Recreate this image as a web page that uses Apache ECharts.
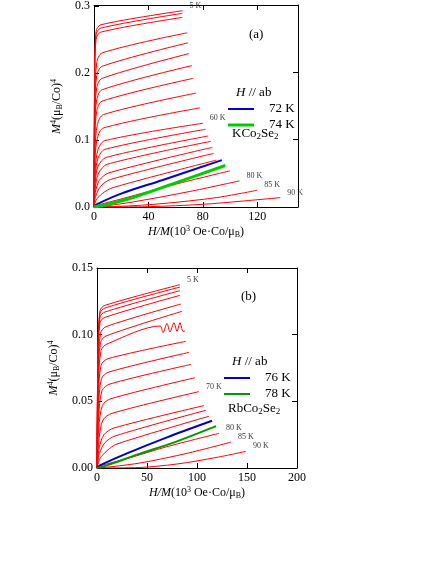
<!DOCTYPE html>
<html><head><meta charset="utf-8">
<script src="https://cdn.jsdelivr.net/npm/echarts@6/dist/echarts.min.js"></script>
<style>html,body{margin:0;background:#fff}#c{width:436px;height:564px}</style>
</head><body><div id="c"></div>
<script>
// panel (a) KCo2Se2: red isotherms, [x, y] points
var curvesA = [
  [[0,0],[0.5,0.2],[1.5,0.262],[5,0.272],[65,0.293]],
  [[0,0],[0.5,0.2],[1.5,0.257],[5,0.267],[65,0.289]],
  [[0,0],[0.5,0.19],[1.5,0.25],[5,0.261],[65,0.283]],
  [[0,0],[0.6,0.16],[2,0.215],[6,0.230],[68.5,0.260]],
  [[0,0],[0.6,0.15],[2,0.196],[6,0.210],[69,0.245]],
  [[0,0],[0.6,0.13],[2,0.178],[6,0.192],[70,0.229]],
  [[0,0],[0.6,0.12],[2,0.160],[6,0.175],[72,0.211]],
  [[0,0],[0.6,0.10],[2,0.143],[6,0.158],[73,0.192]],
  [[0,0],[0.7,0.085],[2.5,0.123],[7,0.138],[75,0.170]],
  [[0,0],[0.7,0.07],[2.5,0.103],[7,0.118],[78,0.148]],
  [[0,0],[0.8,0.055],[3,0.086],[8,0.099],[80,0.125]],
  [[0,0],[0.8,0.045],[3,0.073],[8,0.086],[82,0.116]],
  [[0,0],[0.9,0.037],[3,0.061],[9,0.074],[84,0.106]],
  [[0,0],[1,0.03],[3.5,0.051],[10,0.064],[86,0.098]],
  [[0,0],[1,0.022],[4,0.040],[11,0.051],[87,0.089]],
  [[0,0],[1.2,0.016],[5,0.031],[12,0.041],[88,0.080]],
  [[0,0],[1.5,0.01],[6,0.020],[14,0.029],[90,0.070]],
  [[0,0],[5,0.004],[20,0.012],[60,0.034],[100,0.054]],
  [[0,0],[10,0.002],[30,0.008],[70,0.023],[107,0.039]],
  [[0,0],[20,0.001],[50,0.005],[90,0.014],[120,0.025]],
  [[0,0],[40,0.0005],[80,0.004],[110,0.009],[137,0.014]]
];
var blueA = [[0,0],[2,0.004],[20,0.020],[50,0.040],[94,0.070]];
var greenA = [[0,0],[10,0.004],[30,0.015],[60,0.036],[96.5,0.062]];
var labelsA = [['5 K',65,0.293],['60 K',80,0.125],['80 K',107,0.039],['85 K',120,0.025],['90 K',137,0.014]];

// panel (b) RbCo2Se2
var curvesB = [
  [[0,0],[1,0.09],[3,0.118],[8,0.122],[83,0.1375]],
  [[0,0],[1,0.088],[3,0.116],[8,0.120],[83,0.1357]],
  [[0,0],[1,0.085],[3,0.113],[8,0.117],[83,0.133]],
  [[0,0],[1,0.08],[3,0.109],[8,0.113],[83,0.1295]],
  [[0,0],[1.2,0.074],[3.5,0.101],[9,0.106],[84,0.123]],
  [[0,0],[1.2,0.068],[3.5,0.094],[9,0.099],[85,0.1175]],
  [[0,0],[1.3,0.062],[4,0.088],[10,0.093],[63,0.1065],[66,0.1015],[70,0.1085],[73,0.102],[77,0.109],[80,0.1025],[83,0.109],[86,0.1025],[88,0.1026]],
  [[0,0],[1.4,0.052],[4,0.077],[11,0.082],[89,0.095]],
  [[0,0],[1.5,0.045],[4.5,0.067],[12,0.072],[92,0.0867]],
  [[0,0],[1.6,0.038],[5,0.058],[13,0.063],[94,0.0777]],
  [[0,0],[1.8,0.03],[5.5,0.047],[14,0.052],[98,0.0677]],
  [[0,0],[2,0.022],[6,0.036],[15,0.041],[102,0.0573]],
  [[0,0],[2.2,0.015],[7,0.025],[17,0.030],[107,0.0468]],
  [[0,0],[2.5,0.011],[8,0.019],[18,0.024],[109,0.0433]],
  [[0,0],[3,0.007],[10,0.013],[20,0.018],[112,0.0388]],
  [[0,0],[5,0.002],[30,0.007],[70,0.016],[122,0.026]],
  [[0,0],[15,0.001],[45,0.004],[90,0.011],[134,0.0194]],
  [[0,0],[40,0.0003],[80,0.003],[120,0.008],[149,0.0125]]
];
var blueB = [[0,0],[3,0.002],[30,0.011],[70,0.023],[115,0.0354]];
var greenB = [[0,0],[10,0.002],[40,0.010],[80,0.020],[119,0.0314]];
var labelsB = [['5 K',83,0.1375],['70 K',102,0.0573],['80 K',122,0.026],['85 K',134,0.0194],['90 K',149,0.0125]];

var F = 'Liberation Serif';
var chart = echarts.init(document.getElementById('c'));
var series = [];
function addLine(data, xi, color, w) {
  series.push({type:'line', xAxisIndex:xi, yAxisIndex:xi, data:data, showSymbol:false,
    smooth:0.3, lineStyle:{color:color, width:w}, silent:true});
}
function addLabels(lbls, xi) {
  series.push({type:'scatter', xAxisIndex:xi, yAxisIndex:xi, symbolSize:0, silent:true,
    data:lbls.map(function(l){return {value:[l[1],l[2]], label:{show:true, formatter:l[0], position:'right', offset:[2,-5], fontFamily:F, fontSize:8, color:'#000'}};})});
}
curvesA.forEach(function(c){addLine(c,0,'#ff0000',1);});
addLine(blueA,0,'#0000dd',2); addLine(greenA,0,'#00cc00',3);
curvesB.forEach(function(c){addLine(c,2,'#ff0000',1);});
addLine(blueB,2,'#0000cc',2); addLine(greenB,2,'#009900',2);
addLabels(labelsA,0); addLabels(labelsB,2);
// mirrored axes need a series
series.push({type:'line',xAxisIndex:1,yAxisIndex:1,data:[]});
series.push({type:'line',xAxisIndex:3,yAxisIndex:3,data:[]});

var lab = {fontFamily:F, fontSize:12, color:'#000'};
var rich = {i:{fontStyle:'italic',fontFamily:F,fontSize:12}, s:{fontSize:8,fontFamily:F,verticalAlign:'top',padding:[0,0,6,0]}, b:{fontSize:8,fontFamily:F,padding:[6,0,0,0]}, n:{fontFamily:F,fontSize:12}};
var xName = '{i|H/M}{n|(10}{s|3}{n| Oe·Co/μ}{b|B}{n|)}';
var yName = '{i|M}{s|4}{n|(μ}{b|B}{n|/Co)}{s|4}';
function xa(g, max, iv, show, pos, hideMax) {
  return {type:'value', gridIndex:g, min:0, max:max, interval:iv, position:pos,
    axisLine:{show:true,onZero:false,lineStyle:{color:'#000'}}, axisTick:{inside:true,length:5,lineStyle:{color:'#000'}},
    splitLine:{show:false}, axisLabel:{show:show, ...lab, margin:4, formatter:function(v){return (hideMax && v===max)?'':v;}},
    name: show ? xName : '', nameLocation:'middle', nameGap:18, nameTextStyle:{rich:rich}};
}
function ya(g, max, iv, show, pos, dec) {
  return {type:'value', gridIndex:g, min:0, max:max, interval:iv, position:pos,
    axisLine:{show:true,onZero:false,lineStyle:{color:'#000'}}, axisTick:{inside:true,length:5,lineStyle:{color:'#000'}},
    splitLine:{show:false}, axisLabel:{show:show, ...lab, margin:4, formatter:function(v){return v.toFixed(dec);}},
    name: show ? yName : '', nameLocation:'middle', nameGap:dec===1?30:36, nameRotate:90, nameTextStyle:{rich:rich}};
}
var gr = [];
function legend(x, y, c1, c2, t1, t2, w2, comp, cy) {
  gr.push({type:'text', left:x, top:y, style:{text:'{i|H} // ab', rich:{i:{fontStyle:'italic',fontFamily:F,fontSize:13},n:{fontFamily:F,fontSize:13}}, font:'13px '+F, fill:'#000'}});
  gr.push({type:'line', shape:{x1:x-8,y1:y+23,x2:x+18,y2:y+23}, style:{stroke:c1,lineWidth:2}});
  gr.push({type:'text', left:x+33, top:y+16, style:{text:t1, font:'13px '+F, fill:'#000'}});
  gr.push({type:'line', shape:{x1:x-8,y1:y+39,x2:x+18,y2:y+39}, style:{stroke:c2,lineWidth:w2}});
  gr.push({type:'text', left:x+33, top:y+32, style:{text:t2, font:'13px '+F, fill:'#000'}});
  gr.push({type:'text', left:x-4, top:cy, style:{text:comp, rich:{n:{fontFamily:F,fontSize:13},b:{fontFamily:F,fontSize:9,padding:[6,0,0,0]}}, fill:'#000'}});
}
legend(236, 86, '#0000dd', '#00cc00', '72 K', '74 K', 3, '{n|KCo}{b|2}{n|Se}{b|2}', 127);
legend(232, 355, '#0000cc', '#009900', '76 K', '78 K', 2, '{n|RbCo}{b|2}{n|Se}{b|2}', 402);
gr.push({type:'text', left:249, top:28, style:{text:'(a)', font:'13px '+F, fill:'#000'}});
gr.push({type:'text', left:241, top:290, style:{text:'(b)', font:'13px '+F, fill:'#000'}});

chart.setOption({
  animation:false,
  grid:[{left:94,top:5,width:204,height:202},{left:94,top:5,width:204,height:202},
        {left:97,top:268,width:200,height:200},{left:97,top:268,width:200,height:200}],
  xAxis:[xa(0,150,40,true,'bottom',true), xa(1,150,40,false,'top'), xa(2,200,50,true,'bottom'), xa(3,200,50,false,'top')],
  yAxis:[ya(0,0.3,0.1,true,'left',1), ya(1,0.3,0.1,false,'right',1), ya(2,0.15,0.05,true,'left',2), ya(3,0.15,0.05,false,'right',2)],
  series:series,
  graphic:gr
});
</script></body></html>
